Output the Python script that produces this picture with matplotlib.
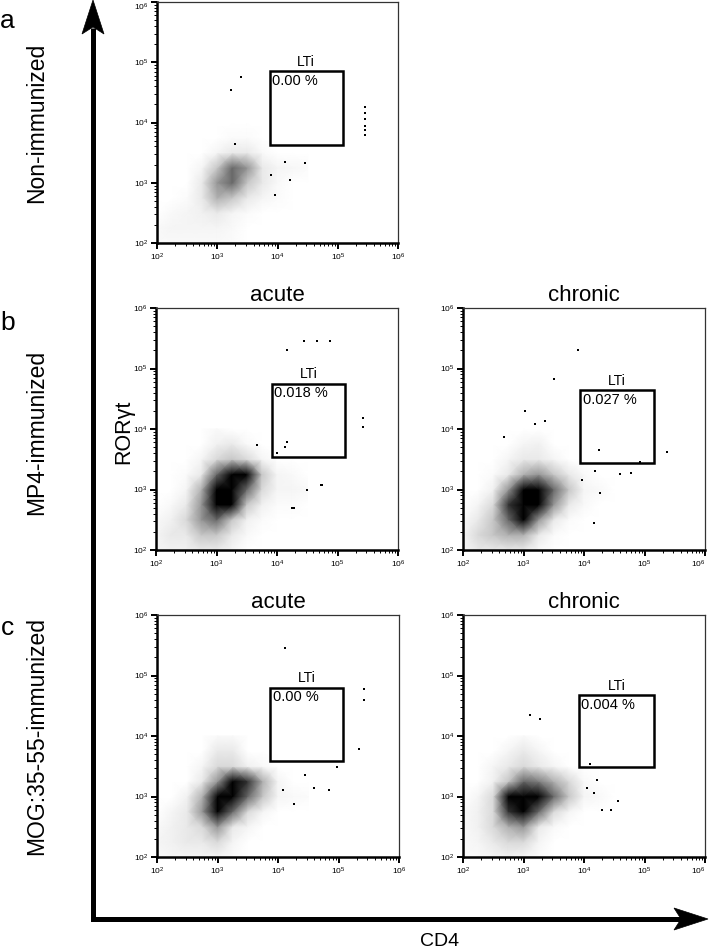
import numpy as np
import matplotlib
matplotlib.use('Agg')
import matplotlib.pyplot as plt
from matplotlib.patches import Rectangle, Polygon
from matplotlib.ticker import LogLocator, NullFormatter

plt.rcParams['font.family'] = ['Liberation Sans', 'DejaVu Sans']
plt.rcParams['mathtext.fontset'] = 'custom'
plt.rcParams['mathtext.rm'] = 'Liberation Sans'
plt.rcParams['mathtext.default'] = 'regular'

# density grid nodes (log10 of CD4 / RORgt), rows go bottom -> top
x_nodes = [2.0, 2.25, 2.5, 2.75, 3.0, 3.25, 3.5, 3.75, 4.0, 4.25, 4.5]
y_nodes = [2.0, 2.25, 2.5, 2.75, 3.0, 3.25, 3.5, 3.75, 4.0]

dens_a = [
    [0.3, 0.3, 0.3, 0.3, 0.3, 0.2, 0, 0, 0, 0, 0],
    [0.3, 0.5, 0.5, 0.5, 0.5, 0.3, 0, 0, 0, 0, 0],
    [0, 0.3, 0.5, 0.7, 1.0, 0.5, 0.2, 0, 0, 0, 0],
    [0, 0, 0.2, 1.0, 2.5, 2.0, 1.0, 0.5, 0.2, 0, 0],
    [0, 0, 0, 1.0, 3.0, 4.0, 2.0, 1.0, 0.3, 0, 0],
    [0, 0, 0, 0.5, 2.0, 4.0, 3.0, 1.0, 0.5, 0.4, 0.2],
    [0, 0, 0, 0, 0.5, 1.0, 1.0, 0.3, 0, 0, 0],
    [0, 0, 0, 0, 0, 0.2, 0.2, 0, 0, 0, 0],
    [0, 0, 0, 0, 0, 0, 0, 0, 0, 0, 0],
]
dens_b_acute = [
    [0.5, 0.7, 0.7, 1.0, 1.0, 0.5, 0, 0, 0, 0, 0],
    [0.5, 1.0, 1.0, 2.0, 2.0, 1.0, 0.3, 0, 0, 0, 0],
    [0.3, 0.7, 1.5, 3.0, 4.0, 2.0, 0.7, 0.2, 0, 0, 0],
    [0, 0.3, 1.0, 3.0, 8.0, 6.0, 2.0, 0.7, 0.2, 0.2, 0],
    [0, 0, 0.5, 2.5, 8.0, 9.0, 4.0, 1.5, 0.5, 0.5, 0.3],
    [0, 0, 0.2, 1.0, 4.0, 9.0, 6.0, 2.0, 0.5, 0.3, 0],
    [0, 0, 0, 0.5, 1.5, 2.0, 1.5, 0.5, 0, 0, 0],
    [0, 0, 0, 0, 0.7, 1.0, 0.3, 0, 0, 0, 0],
    [0, 0, 0, 0, 0.3, 0, 0, 0, 0, 0, 0],
]
dens_b_chronic = [
    [0.5, 1.0, 1.0, 1.0, 1.0, 0.3, 0, 0, 0, 0, 0],
    [0.5, 1.5, 2.0, 2.5, 2.5, 1.0, 0.2, 0, 0, 0, 0],
    [0.3, 1.0, 2.0, 4.0, 6.0, 3.0, 1.0, 0.2, 0, 0, 0],
    [0, 0.5, 1.5, 5.0, 9.0, 7.0, 3.0, 1.0, 0.3, 0, 0],
    [0, 0, 0.7, 3.0, 7.0, 8.0, 4.0, 2.0, 0.5, 0.3, 0],
    [0, 0, 0.2, 1.0, 2.5, 3.0, 2.0, 1.0, 0.3, 0, 0],
    [0, 0, 0, 0.5, 1.0, 1.0, 0.5, 0, 0, 0, 0],
    [0, 0, 0, 0, 0.5, 0.7, 0, 0, 0, 0, 0],
    [0, 0, 0, 0, 0, 0, 0, 0, 0, 0, 0],
]
dens_c_acute = [
    [0.3, 0.5, 0.5, 0.5, 0.5, 0.2, 0, 0, 0, 0, 0],
    [0.5, 0.7, 1.0, 1.0, 1.5, 0.5, 0, 0, 0, 0, 0],
    [0.3, 0.7, 1.0, 1.5, 3.0, 1.0, 0.5, 0, 0, 0, 0],
    [0, 0.5, 1.0, 3.0, 7.0, 4.0, 1.5, 0.5, 0, 0, 0],
    [0, 0, 0.7, 2.5, 8.0, 9.0, 4.0, 2.0, 0.5, 0.3, 0.2],
    [0, 0, 0, 1.0, 3.0, 7.0, 5.0, 2.5, 0.5, 0, 0],
    [0, 0, 0, 0.5, 1.5, 1.5, 0.7, 0.3, 0, 0, 0],
    [0, 0, 0, 0, 1.0, 1.0, 0, 0, 0, 0, 0],
    [0, 0, 0, 0, 0.3, 0.3, 0, 0, 0, 0, 0],
]
dens_c_chronic = [
    [0.3, 0.3, 0.5, 0.7, 0.5, 0.2, 0, 0, 0, 0, 0],
    [0.3, 0.5, 1.0, 1.5, 1.5, 0.5, 0, 0, 0, 0, 0],
    [0.3, 0.7, 1.5, 2.5, 3.0, 1.0, 0.3, 0, 0, 0, 0],
    [0.3, 0.7, 1.5, 5.0, 7.0, 4.0, 1.5, 0.5, 0, 0, 0],
    [0, 0.5, 1.5, 6.0, 9.0, 8.0, 4.0, 2.0, 0.5, 0.3, 0],
    [0, 0, 0.7, 2.0, 4.0, 3.5, 2.5, 1.5, 0.3, 0, 0],
    [0, 0, 0.5, 1.0, 1.5, 1.0, 0.5, 0, 0, 0, 0],
    [0, 0, 0, 0.5, 1.0, 0.5, 0, 0, 0, 0, 0],
    [0, 0, 0, 0, 0.3, 0, 0, 0, 0, 0, 0],
]

# scattered single events (log10 x, log10 y)
pts_a = [(3.39, 4.76), (3.23, 4.54), (4.12, 3.35), (4.45, 3.32), (4.2, 3.04),
         (3.9, 3.13), (3.96, 2.8), (3.29, 3.65), (5.45, 3.79), (5.45, 3.87),
         (5.45, 3.95), (5.45, 4.05), (5.45, 4.15), (5.45, 4.26)]
pts_b_acute = [(4.17, 5.3), (4.44, 5.45), (4.66, 5.45), (4.88, 5.45), (4.0, 3.6),
               (4.14, 3.71), (4.17, 3.78), (4.5, 3.0), (4.72, 3.08), (4.28, 2.69),
               (3.67, 3.74), (5.42, 4.19), (5.42, 4.03), (4.75, 3.08), (4.25, 2.69)]
pts_b_chronic = [(3.9, 5.31), (3.5, 4.83), (3.03, 4.3), (3.19, 4.08), (3.35, 4.13),
                 (2.67, 3.87), (4.25, 3.65), (5.38, 3.62), (4.92, 3.45), (4.19, 3.3),
                 (4.6, 3.25), (4.77, 3.28), (4.27, 2.95), (4.17, 2.44), (3.97, 3.16)]
pts_c_acute = [(4.11, 5.45), (5.34, 3.78), (4.45, 3.36), (4.98, 3.48), (4.84, 3.11),
               (4.59, 3.14), (4.26, 2.88), (4.09, 3.11), (5.42, 4.77), (5.42, 4.6)]
pts_c_chronic = [(3.11, 4.34), (3.28, 4.28), (4.1, 3.54), (4.22, 3.28), (4.16, 3.06),
                 (4.44, 2.78), (4.3, 2.78), (4.56, 2.92), (4.05, 3.14)]

# LTi gates: log10 (x0, x1, y0, y1) and percentages
gate_a = (3.87, 5.08, 3.63, 4.85)
gate_b_acute = (3.91, 5.13, 3.54, 4.75)
gate_b_chronic = (3.94, 5.15, 3.43, 4.64)
gate_c_acute = (3.87, 5.08, 3.58, 4.80)
gate_c_chronic = (3.91, 5.16, 3.48, 4.67)
pct_a, pct_b_acute, pct_b_chronic = '0.00 %', '0.018 %', '0.027 %'
pct_c_acute, pct_c_chronic = '0.00 %', '0.004 %'

decades = [2, 3, 4, 5, 6]

W, H = 709, 948
fig = plt.figure(figsize=(W / 100, H / 100), dpi=100)


def px_axes(left, top, w, h):
    return fig.add_axes([left / W, 1 - (top + h) / H, w / W, h / H])


def draw_panel(ax, dens, pts, gate, pct, title=None):
    ax.set_xscale('log')
    ax.set_yscale('log')
    xg = 10 ** np.array(x_nodes)
    yg = 10 ** np.array(y_nodes)
    ax.pcolormesh(xg, yg, np.array(dens), shading='gouraud', cmap='Greys',
                  vmin=0, vmax=6.0, zorder=1)
    px = [10 ** p[0] for p in pts]
    py = [10 ** p[1] for p in pts]
    ax.scatter(px, py, s=1.0, c='k', marker='s', linewidths=0, zorder=2)

    x0, x1, y0, y1 = gate
    ax.add_patch(Rectangle((10 ** x0, 10 ** y0), 10 ** x1 - 10 ** x0,
                           10 ** y1 - 10 ** y0, fill=False, lw=1.8,
                           ec='k', zorder=3))
    ax.annotate('LTi', xy=(10 ** ((x0 + x1) / 2), 10 ** y1), xytext=(0, 2),
                textcoords='offset points', ha='center', va='bottom',
                fontsize=10)
    ax.annotate(pct, xy=(10 ** x0, 10 ** y1), xytext=(2, -2),
                textcoords='offset points', ha='left', va='top',
                fontsize=10.5)

    ax.set_xlim(1e2, 1e6)
    ax.set_ylim(1e2, 1e6)
    ticks = [10.0 ** d for d in decades]
    labels = ['$10^{%d}$' % d for d in decades]
    ax.set_xticks(ticks)
    ax.set_xticklabels(labels)
    ax.set_yticks(ticks)
    ax.set_yticklabels(labels)
    ax.xaxis.set_minor_locator(LogLocator(base=10, subs=np.arange(2, 10)))
    ax.yaxis.set_minor_locator(LogLocator(base=10, subs=np.arange(2, 10)))
    ax.xaxis.set_minor_formatter(NullFormatter())
    ax.yaxis.set_minor_formatter(NullFormatter())
    ax.tick_params(which='major', direction='out', length=4, width=1.4,
                   labelsize=6, pad=2)
    ax.tick_params(which='minor', direction='out', length=2.2, width=0.7)
    for side in ['left', 'bottom']:
        ax.spines[side].set_linewidth(1.8)
    for side in ['top', 'right']:
        ax.spines[side].set_linewidth(0.9)
        ax.spines[side].set_color('#333333')
    if title:
        ax.set_title(title, fontsize=16, pad=5)
    return ax


ax_a = draw_panel(px_axes(157, 2, 241, 241), dens_a, pts_a, gate_a, pct_a)
ax_a.get_yticklabels()[-1].set_verticalalignment('top')
draw_panel(px_axes(156, 308, 242, 242), dens_b_acute, pts_b_acute,
           gate_b_acute, pct_b_acute, 'acute')
ax_bc = draw_panel(px_axes(463, 308, 242, 242), dens_b_chronic, pts_b_chronic,
                   gate_b_chronic, pct_b_chronic, 'chronic')
draw_panel(px_axes(157, 615, 242, 242), dens_c_acute, pts_c_acute,
           gate_c_acute, pct_c_acute, 'acute')
ax_cc = draw_panel(px_axes(463, 615, 242, 242), dens_c_chronic, pts_c_chronic,
                   gate_c_chronic, pct_c_chronic, 'chronic')
for ax in [ax_bc, ax_cc]:
    ax.get_xticklabels()[-1].set_horizontalalignment('right')

# overlay in pixel coordinates for arrows and labels
ov = fig.add_axes([0, 0, 1, 1], zorder=-1)
ov.set_xlim(0, W)
ov.set_ylim(H, 0)
ov.axis('off')
ov.plot([93, 93, 688], [28, 919, 919], color='k', lw=3.6,
        solid_joinstyle='miter', solid_capstyle='butt')
ov.add_patch(Polygon([(93, 0), (82, 34), (93, 27), (104, 34)], closed=True,
                     fc='k', ec='k', lw=0.5))
ov.add_patch(Polygon([(708, 919), (674, 908), (681, 919), (674, 930)],
                     closed=True, fc='k', ec='k', lw=0.5))

ov.text(7, 21, 'a', fontsize=19, ha='center', va='center')
ov.text(8, 323, 'b', fontsize=19, ha='center', va='center')
ov.text(8, 628, 'c', fontsize=19, ha='center', va='center')
ov.text(37, 123, 'Non-immunized', fontsize=16.5, rotation=90,
        ha='center', va='center')
ov.text(37, 432, 'MP4-immunized', fontsize=16.5, rotation=90,
        ha='center', va='center')
ov.text(37, 736, 'MOG:35-55-immunized', fontsize=16.5, rotation=90,
        ha='center', va='center')
ov.text(124, 432, 'RORγt', fontsize=15.5, rotation=90,
        ha='center', va='center')
ov.text(440, 941, 'CD4', fontsize=14, ha='center', va='center')

fig.savefig('out.png', dpi=100)
